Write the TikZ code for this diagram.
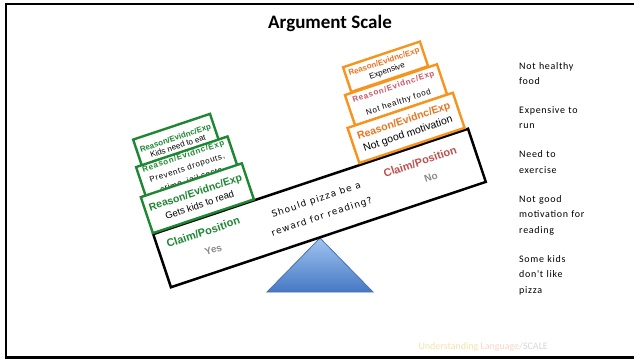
\documentclass[tikz,border=0pt]{standalone}
\usepackage{fontspec}
\setmainfont{Liberation Sans}
\newfontfamily\calibri{Carlito}
\newfontfamily\listfont[LetterSpace=7]{Carlito}
\newfontfamily\handfont[LetterSpace=12]{DejaVu Sans}
\newfontfamily\widesans[LetterSpace=9]{Liberation Sans}
\usetikzlibrary{positioning}

\definecolor{rgreen}{RGB}{30,135,50}
\definecolor{rorange}{RGB}{247,148,30}
\definecolor{otext}{RGB}{235,115,30}
\definecolor{claimred}{RGB}{192,80,77}
\definecolor{midred}{RGB}{205,85,100}
\definecolor{answergray}{RGB}{140,140,140}
\definecolor{pivottop}{RGB}{160,196,240}
\definecolor{pivotbot}{RGB}{70,120,195}
\definecolor{pivotline}{RGB}{70,115,180}
\definecolor{footgold}{RGB}{243,228,170}
\definecolor{footsalmon}{RGB}{249,215,200}
\definecolor{footgray}{RGB}{215,215,215}

\begin{document}
\begin{tikzpicture}[x=1pt, y=1pt,
    node distance=13pt,
    slideframe/.style={line width=2.5pt},
    beam/.style={draw, line width=2.5pt, fill=white, minimum width=332pt, minimum height=56pt, inner sep=0pt},
    gbox/.style={draw=rgreen, line width=2.4pt, fill=white, align=center, inner sep=0pt},
    obox/.style={draw=rorange, line width=2.4pt, fill=white, align=center, inner sep=0pt},
    claim/.style={font=\bfseries\fontsize{11}{13}\selectfont},
    answer/.style={font=\bfseries\fontsize{10}{12}\selectfont, text=answergray},
    question/.style={font=\handfont\fontsize{9}{17.7}\selectfont, align=center},
    listitem/.style={font=\listfont\fontsize{10}{15.5}\selectfont, text width=90pt, align=left, inner sep=0pt, anchor=north west}
]
    \useasboundingbox (0,0) rectangle (634,360);
    \fill[white] (0,0) rectangle (634,360);
    \draw[slideframe] (634,356) -- (6,356) -- (6,2.5) -- (634,2.5);

    % Title
    \node[font=\calibri\bfseries\fontsize{19}{22}\selectfont] (title) at (330,337) {Argument Scale};

    % Pivot
    \coordinate (pivot) at (320,122);
    \shade[top color=pivottop, bottom color=pivotbot, draw=pivotline, line width=0.8pt]
        (267,68) -- (pivot) -- (373,68) -- cycle;

    % Beam and the boxes on it
    \begin{scope}[shift={(319.5,152)}, rotate=18.5, transform shape]
        \node[beam] (beam) at (0,0) {};
        \node[question] (q) at (-0.6,-0.5) {Should pizza be a\\reward for reading?};
        \node[claim, text=rgreen] (claimyes) at (-118,14) {Claim/Position};
        \node[answer] (yes) at (-114,-6) {Yes};
        \node[claim, text=claimred] (claimno) at (110,12) {Claim/Position};
        \node[answer] (no) at (115.5,-6) {No};

        % Yes side
        \node[gbox, minimum width=81pt, minimum height=32pt, font=\fontsize{8}{8.5}\selectfont]
            (eat) at (-114.5,108) {{\color{rgreen}\bfseries Reason/Evidnc/Exp}\\Kids need to eat};
        \node[gbox, minimum width=96.5pt, minimum height=35pt, font=\widesans\fontsize{8}{12.5}\selectfont]
            (dropouts) at (-112.75,79.5) {{\color{rgreen}\bfseries Reason/Evidnc/Exp}\\Prevents dropouts,\\crime, jail costs};
        \node[gbox, minimum width=106.5pt, minimum height=38pt, font=\fontsize{9.5}{13}\selectfont]
            (read) at (-112.75,48) {{\color{rgreen}\bfseries\fontsize{10.5}{13}\selectfont Reason/Evidnc/Exp}\\Gets kids to read};

        % No side
        \node[obox, minimum width=81pt, minimum height=26pt, font=\fontsize{8}{9.5}\selectfont]
            (expensive) at (107.5,113) {{\color{otext}\bfseries Reason/Evidnc/Exp}\\Expensive};
        \node[obox, minimum width=97pt, minimum height=32pt, font=\widesans\fontsize{8}{16}\selectfont]
            (unhealthy) at (108.5,83) {{\color{midred}\bfseries Reason/Evidnc/Exp}\\Not healthy food};
        \node[obox, minimum width=111pt, minimum height=37pt, font=\fontsize{10.5}{13}\selectfont]
            (motivation) at (107.5,48.5) {{\color{otext}\bfseries Reason/Evidnc/Exp}\\Not good motivation};
    \end{scope}

    % Notes on the right
    \node[listitem] (n1) at (519,302) {\strut Not healthy\\food\strut};
    \node[listitem, below=of n1.south west, anchor=north west] (n2) {\strut Expensive to\\run\strut};
    \node[listitem, below=of n2.south west, anchor=north west] (n3) {\strut Need to\\exercise\strut};
    \node[listitem, below=of n3.south west, anchor=north west] (n4) {\strut Not good\\motivation for\\reading\strut};
    \node[listitem, below=of n4.south west, anchor=north west] (n5) {\strut Some kids\\don't like\\pizza\strut};

    % Footer
    \node[anchor=west, font=\calibri\fontsize{10}{12}\selectfont] (footer) at (415,13)
        {\textcolor{footgold}{Understanding} \textcolor{footsalmon}{Language/}\textcolor{footgray}{SCALE}};
\end{tikzpicture}
\end{document}
